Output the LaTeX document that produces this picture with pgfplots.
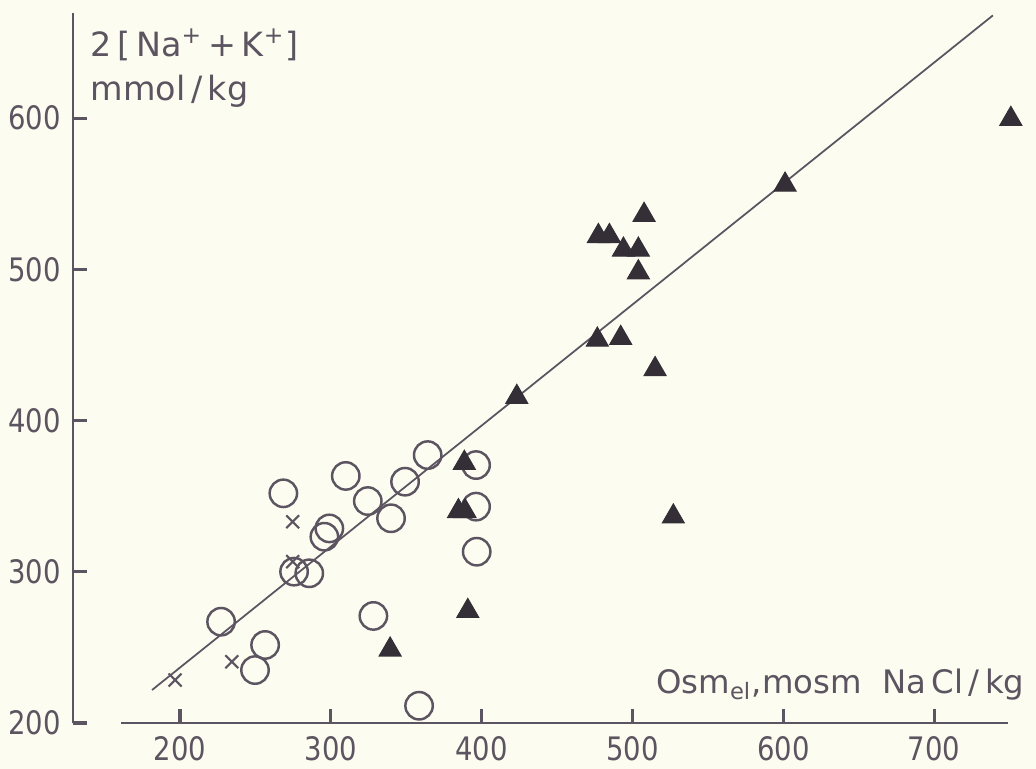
\documentclass[border=0pt]{standalone}
\usepackage{fontspec}
\setmainfont{DejaVu Sans}
\newfontfamily\tickfont{DejaVu Sans}[FakeStretch=0.85]
\usepackage{pgfplots}
\pgfplotsset{compat=1.18}
\usetikzlibrary{backgrounds}

\definecolor{ink}{RGB}{92,84,96}
\definecolor{fillink}{RGB}{52,47,54}
\definecolor{paper}{RGB}{253,252,240}

\begin{document}
\begin{tikzpicture}
\begin{axis}[
    scale only axis,
    width=93.5mm, height=71mm,
    xmin=129, xmax=749,
    ymin=200, ymax=669.6,
    enlargelimits=false,
    clip=false,
    axis x line=bottom, axis y line=left,
    axis line style={-, color=ink, line width=0.6pt},
    x axis line style={draw=none},
    xtick={200,300,...,700},
    ytick={200,300,...,600},
    minor tick num=0,
    tick align=inside,
    major tick length=4pt,
    tick style={color=ink, line width=0.9pt},
    /pgf/number format/assume math mode=true,
    ticklabel style={font=\tickfont\fontsize{9.2}{11}\selectfont, text=ink},
    xticklabel style={yshift=-0.3pt},
]
% x axis line (starts right of the y axis, as in the original)
\draw[ink, line width=0.6pt] (axis cs:160.9,200) -- (axis cs:749,200);

% regression line
\addplot[ink, line width=0.5pt] coordinates {(181.4,221.8) (739,668)};

% open circles
\addplot[only marks, mark=o, mark size=3.9pt, ink, mark options={line width=0.7pt}] coordinates {
  (268.5,351.9) (309.9,363.4) (364.2,377.2) (349.2,359.6) (324.5,346.8)
  (339.9,335.4) (299,328.7) (295.7,323.2) (275.6,300.1) (285.7,299)
  (227.2,267) (256.4,251.6) (249.7,235) (328.2,270.8) (358.5,211.4)
  (396.3,370.6) (396.3,343.1) (396.7,313.3)
};

% crosses
\addplot[only marks, mark=x, mark size=2.6pt, ink, mark options={line width=0.6pt}] coordinates {
  (196.7,228.4) (234.3,240.5) (274.7,333.1) (274.7,306.7)
};

% filled triangles
\addplot[only marks, mark=triangle*, mark size=3.6pt, mark options={fill=fillink, draw=fillink, line width=0.3pt}] coordinates {
  (388.5,372) (384.6,340) (389,340) (390.8,274) (339.3,248.5)
  (507.7,536) (477.4,522) (484.7,522) (494,513) (503.9,513)
  (503.9,498) (476.7,453.5) (492.2,454.6) (515,434) (423.3,415.6)
  (527.1,336.5) (601.2,556) (750.9,599.5)
};

% axis titles
\node[anchor=base west, text=ink, font=\fontsize{9.5}{11}\selectfont, inner sep=0pt]
  at (axis cs:140.3,640.5) {2\,[\,Na\textsuperscript{+}\,+\,K\textsuperscript{+}]};
\node[anchor=base west, text=ink, font=\fontsize{9.5}{11}\selectfont, inner sep=0pt]
  at (axis cs:140.3,612) {mmol\,/\,kg};
\node[anchor=base east, text=ink, font=\fontsize{9.2}{11}\selectfont, inner sep=0pt]
  at (axis cs:760.3,219.8) {Osm\textsubscript{el},mosm\ \ Na\,Cl\,/\,kg};

\coordinate (bl) at (axis cs:80.6,169.6);
\coordinate (tr) at (axis cs:767.6,678.2);
\end{axis}
\pgfresetboundingbox
\path[use as bounding box] (bl) rectangle (tr);
\begin{scope}[on background layer]
\fill[paper] (bl) rectangle (tr);
\end{scope}
\end{tikzpicture}
\end{document}
